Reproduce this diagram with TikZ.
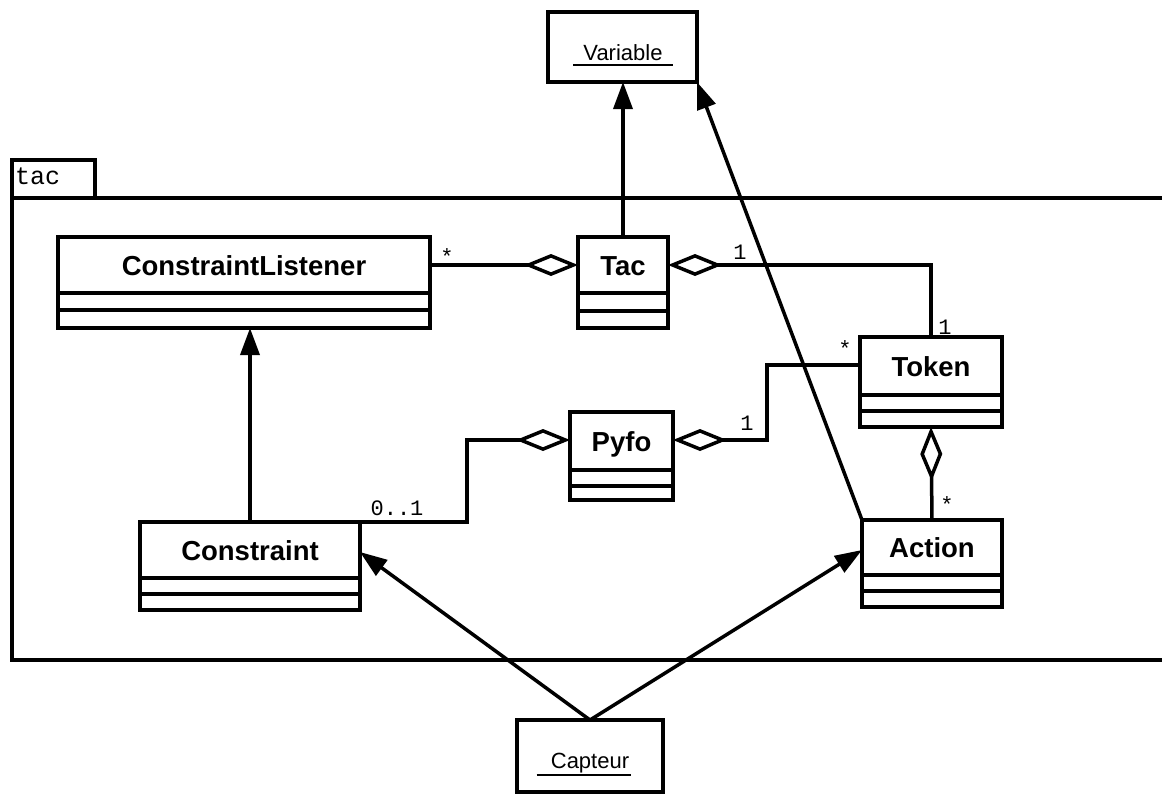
\documentclass[tikz,border=0pt]{standalone}
\usepackage{fontspec}
\setmainfont{Liberation Sans}
\newfontfamily\codefont{Liberation Mono}
\usetikzlibrary{arrows.meta,fit,calc}

\tikzset{
  classframe/.style={draw, line width=4pt, inner sep=0pt, outer sep=0pt, fill=white},
  classname/.style={font=\fontsize{27.5}{33}\selectfont\bfseries, anchor=base, inner sep=0pt},
  compline/.style={line width=4pt},
  objframe/.style={draw, line width=3.5pt, inner sep=0pt, outer sep=0pt, fill=white},
  objname/.style={font=\fontsize{22}{26}\selectfont, anchor=base, inner sep=0pt},
  uline/.style={line width=2.5pt},
  pkgline/.style={line width=4pt},
  conn/.style={line width=3.5pt},
  inherit/.style={conn, -{Triangle[length=27pt,width=19pt]}},
  aggstart/.style={conn, {Diamond[open,length=54pt,width=22pt]}-},
  aggend/.style={conn, -{Diamond[open,length=54pt,width=22pt]}},
  mult/.style={font=\codefont\fontsize{22}{24}\selectfont, inner sep=0pt},
  pkgtitle/.style={font=\codefont\fontsize{25}{28}\selectfont, inner sep=0pt, anchor=base west},
}

% class box: id, label, x1, y1, x2, y2, first and second compartment lines
\newcommand{\umlclass}[8]{%
  \node[classframe, fit={(#3,#4) (#5,#6)}] (#1) {};
  \draw[compline] (#3,#7) -- (#5,#7) (#3,#8) -- (#5,#8);
  \node[classname] (#1-name) at ({(#3+#5)/2},{(#4+#7)/2+10}) {#2};
}

\begin{document}
\begin{tikzpicture}[x=1pt, y=-1pt]
  \useasboundingbox (0,0) rectangle (1162,795);

  % package tac
  \draw[pkgline] (12,198) -- (12,160) -- (95,160) -- (95,198);
  \draw[pkgline] (1162,198) -- (12,198) -- (12,660) -- (1162,660);
  \node[pkgtitle] (pkgname) at (15,184) {tac};

  % classes
  \umlclass{cl}{ConstraintListener}{58}{237}{430}{328}{293}{310}
  \umlclass{tac}{Tac}{578}{237}{668}{328}{293}{311}
  \umlclass{token}{Token}{860}{337}{1002}{427}{395}{411}
  \umlclass{pyfo}{Pyfo}{570}{412}{673}{500}{470}{486}
  \umlclass{constraint}{Constraint}{140}{522}{360}{610}{578}{594}
  \umlclass{action}{Action}{862}{520}{1002}{607}{575}{591}

  % objects outside the package
  \node[objframe, fit={(548,12) (697,82)}] (variable) {};
  \node[objname] (variable-name) at (623,60) {Variable};
  \draw[uline] ([xshift=-10pt,yshift=-5pt]variable-name.base west) -- ([xshift=10pt,yshift=-5pt]variable-name.base east);

  \node[objframe, fit={(517,720) (663,792)}] (capteur) {};
  \node[objname] (capteur-name) at (590,768) {Capteur};
  \draw[uline] ([xshift=-14pt,yshift=-7pt]capteur-name.base west) -- ([xshift=2pt,yshift=-7pt]capteur-name.base east);

  % generalisations
  \draw[inherit] (tac.north) -- (tac.north |- variable.south);
  \draw[inherit] (action.north west) -- (variable.south east);
  \draw[inherit] (constraint.north) -- (constraint.north |- cl.south);
  \draw[inherit] (capteur.north) -- (constraint.east |- 0,552);
  \draw[inherit] (capteur.north) -- (action.west |- 0,550);

  % aggregations
  \draw[aggend] (cl.east |- 0,265) -- (tac.west |- 0,265);
  \draw[aggstart] (tac.east |- 0,265) -| (token.north);
  \draw[aggend] (token.west |- 0,365) -- (767,365) |- (pyfo.east |- 0,440);
  \draw[aggend] (constraint.north east) -- (467,522) |- (pyfo.west |- 0,440);
  \draw[aggstart] (token.south) -- (action.north);

  % multiplicities
  \node[mult] (m-cl) at (447,257) {*};
  \node[mult] (m-tac) at (740,252) {1};
  \node[mult] (m-token-top) at (945,327) {1};
  \node[mult] (m-token-left) at (845,349) {*};
  \node[mult] (m-pyfo) at (747,423) {1};
  \node[mult] (m-constraint) at (397,508) {0..1};
  \node[mult] (m-action) at (947,505) {*};
\end{tikzpicture}
\end{document}
